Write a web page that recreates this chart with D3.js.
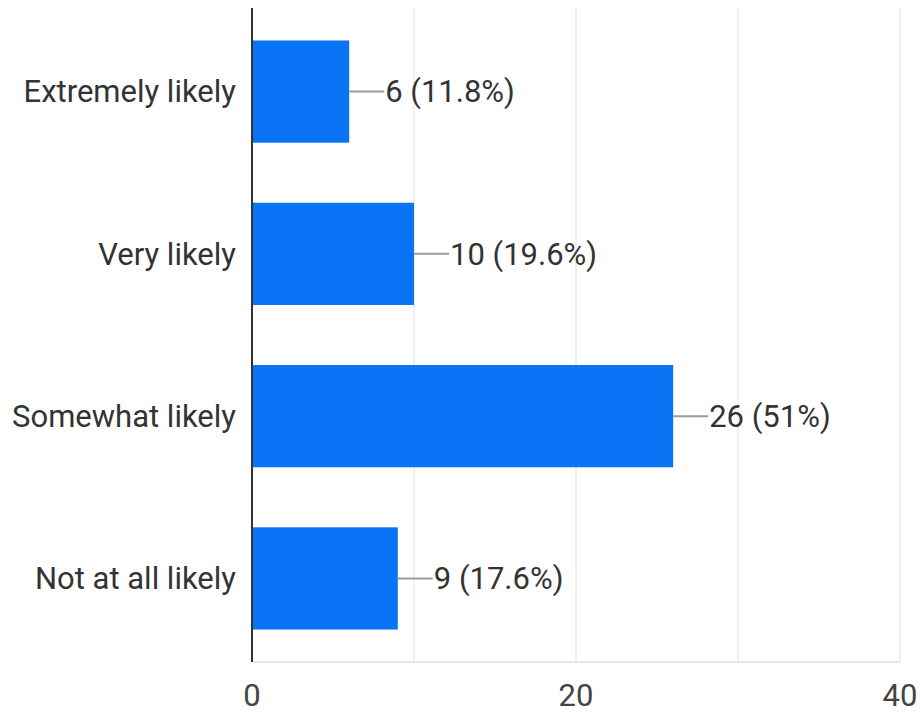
<!DOCTYPE html>
<html><head><meta charset="utf-8">
<script src="https://cdn.jsdelivr.net/npm/d3@7"></script>
<style>body{margin:0;background:#fff;}svg{display:block;font-family:Roboto,"Noto Sans",sans-serif;}</style>
</head><body>
<svg id="chart" width="920" height="715"></svg>
<script>
const categories = ["Extremely likely", "Very likely", "Somewhat likely", "Not at all likely"];
const counts = [6, 10, 26, 9];
const percentLabels = ["11.8%", "19.6%", "51%", "17.6%"];
const xTicks = [0, 20, 40];
const gridTicks = [10, 20, 30, 40];

(function () {
const svg = d3.select("#chart");
const mLeft = 252, mRight = 900, mTop = 8, mBottom = 662;
const fs = 31;
const x = d3.scaleLinear().domain([0, 40]).range([mLeft, mRight]);
const y = d3.scaleBand().domain(categories).range([mTop, mBottom]).paddingInner(0.37).paddingOuter(0.2);

// gridlines
svg.append("g").selectAll("line").data(gridTicks).join("line")
  .attr("x1", d => x(d)).attr("x2", d => x(d)).attr("y1", mTop).attr("y2", mBottom)
  .attr("stroke", "#ebebeb").attr("stroke-width", 1.5);
svg.append("line").attr("x1", mLeft).attr("x2", mRight).attr("y1", mBottom).attr("y2", mBottom)
  .attr("stroke", "#e6e6e6").attr("stroke-width", 2);

// bars
svg.append("g").selectAll("rect").data(categories).join("rect")
  .attr("x", x(0)).attr("y", d => y(d))
  .attr("width", (d, i) => x(counts[i]) - x(0)).attr("height", y.bandwidth())
  .attr("fill", "#0a74f6");

// leader lines & value labels
const lab = svg.append("g");
categories.forEach((c, i) => {
  const cy = y(c) + y.bandwidth() / 2;
  const x0 = x(counts[i]);
  lab.append("line").attr("x1", x0).attr("x2", x0 + 35).attr("y1", cy).attr("y2", cy)
    .attr("stroke", "#9a9a9a").attr("stroke-width", 2);
  lab.append("text").attr("x", x0 + 36).attr("y", cy).attr("dy", "0.35em")
    .attr("font-size", fs).attr("fill", "#333")
    .text(`${counts[i]} (${percentLabels[i]})`);
});

// y axis labels
svg.append("g").selectAll("text").data(categories).join("text")
  .attr("x", 236).attr("y", d => y(d) + y.bandwidth() / 2).attr("dy", "0.35em")
  .attr("text-anchor", "end").attr("font-size", fs).attr("fill", "#333").text(d => d);

// x axis tick labels
svg.append("g").selectAll("text").data(xTicks).join("text")
  .attr("x", d => x(d)).attr("y", 695).attr("dy", "0.35em")
  .attr("text-anchor", "middle").attr("font-size", fs).attr("fill", "#444").text(d => d);

// baseline axis
svg.append("line").attr("x1", mLeft).attr("x2", mLeft).attr("y1", mTop).attr("y2", mBottom)
  .attr("stroke", "#333").attr("stroke-width", 2);
})();
</script>
</body></html>
